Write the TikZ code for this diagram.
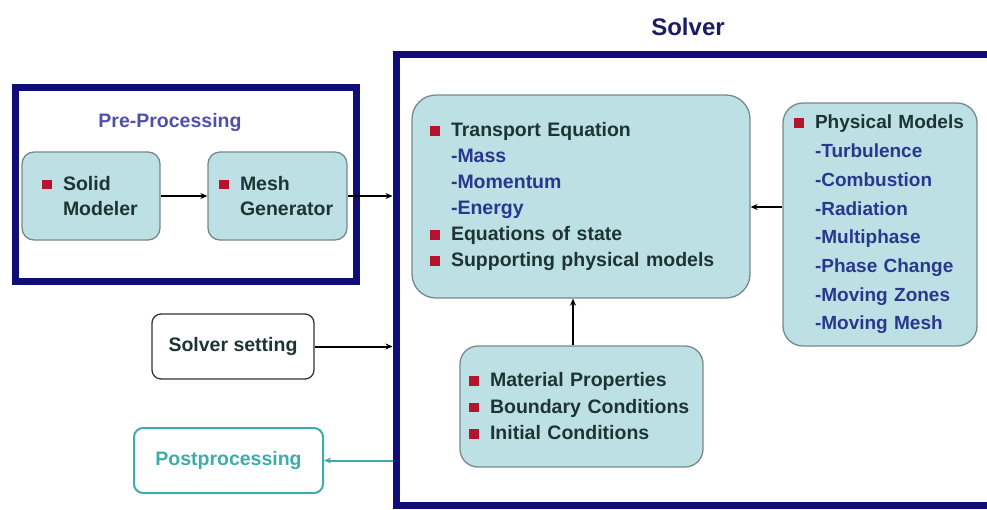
\documentclass[tikz,border=0pt]{standalone}
\usepackage{fontspec}
\setmainfont{Liberation Sans}
\usepackage{xcolor}
\usetikzlibrary{calc, positioning, arrows.meta}

\definecolor{framenavy}{RGB}{14,14,118}
\definecolor{boxfill}{RGB}{189,224,228}
\definecolor{boxline}{RGB}{118,138,140}
\definecolor{maintext}{RGB}{30,52,52}
\definecolor{subblue}{RGB}{40,56,140}
\definecolor{pretext}{RGB}{80,80,168}
\definecolor{titletext}{RGB}{28,28,100}
\definecolor{postteal}{RGB}{62,172,170}
\definecolor{bulred}{RGB}{180,20,45}

\newcommand{\sqbullet}{\makebox[21pt][l]{\textcolor{bulred}{\rule[1pt]{9.5pt}{9.5pt}}}}
\newcommand{\subitm}[1]{\hspace*{21pt}\textcolor{subblue}{#1}}

\begin{document}
\begin{tikzpicture}[x=1pt, y=-1pt,
    box/.style={draw=boxline, fill=boxfill, line width=1.3pt, rounded corners=12pt,
        align=left, inner ysep=0pt, text=maintext,
        font=\fontsize{19.5}{26}\selectfont\bfseries},
    frame/.style={draw=framenavy, line width=7pt, inner sep=0pt},
    arr/.style={-{Stealth[length=7pt, width=6pt]}, line width=2pt}]
    \clip (0,0) rectangle (987,509);

    % Draw the two frames
    \node[frame, minimum width=614, minimum height=451] (solver) at (703,279.5) {};
    \node[frame, minimum width=341, minimum height=194] (pre) at (185.5,184) {};

    % Titles of the frames
    \node[text=titletext, font=\fontsize{24}{28}\selectfont\bfseries] (solvertitle) at (688,27) {Solver};
    \node[text=pretext, font=\fontsize{19.5}{24}\selectfont\bfseries] (pretitle) at (170,122) {Pre-Processing};

    % Pre-processing steps
    \node[box, inner xsep=20pt, text width=98pt, minimum height=88,
        font=\fontsize{19.5}{25}\selectfont\bfseries] (solid) at (91,196)
        {\sqbullet Solid\\ \hspace*{21pt}Modeler};
    \node[box, inner xsep=11pt, text width=117pt, minimum height=88,
        font=\fontsize{19.5}{25}\selectfont\bfseries] (mesh) at (277.5,196)
        {\sqbullet Mesh\\ \hspace*{21pt}Generator};

    % Boxes inside the solver
    \node[box, rounded corners=24pt, inner xsep=18pt, text width=302pt, minimum height=203] (transport) at (581,196.5)
        {\sqbullet Transport Equation\\
         \subitm{-Mass}\\
         \subitm{-Momentum}\\
         \subitm{-Energy}\\
         \sqbullet Equations of state\\
         \sqbullet Supporting physical models};
    \node[box, rounded corners=20pt, inner xsep=11pt, text width=172pt, minimum height=243,
        font=\fontsize{19}{28.7}\selectfont\bfseries] (physical) at (880,224.5)
        {\sqbullet Physical Models\\
         \subitm{-Turbulence}\\
         \subitm{-Combustion}\\
         \subitm{-Radiation}\\
         \subitm{-Multiphase}\\
         \subitm{-Phase Change}\\
         \subitm{-Moving Zones}\\
         \subitm{-Moving Mesh}};
    \node[box, rounded corners=18pt, inner xsep=9pt, text width=225pt, minimum height=121,
        font=\fontsize{19.5}{26.5}\selectfont\bfseries] (material) at (581.5,406.5)
        {\sqbullet Material Properties\\
         \sqbullet Boundary Conditions\\
         \sqbullet Initial Conditions};

    % Boxes outside the frames
    \node[box, fill=white, draw=black!80, align=center, rounded corners=9pt, minimum width=162, minimum height=65] (setting) at (233,346.5)
        {Solver setting};
    \node[box, fill=white, draw=postteal, text=postteal, align=center, line width=2pt, rounded corners=9pt,
        minimum width=189, minimum height=65] (post) at (228.5,460.5) {Postprocessing};

    % Connectors
    \draw[arr] (solid) -- (mesh);
    \draw[arr] (mesh.east) -- (mesh.east -| solver.west);
    \draw[arr] (setting.east) -- (setting.east -| solver.west);
    \draw[arr] ([yshift=17.5pt]physical.west) -- ([yshift=17.5pt]physical.west -| transport.east);
    \draw[arr] ([xshift=-8.5pt]material.north) -- ([xshift=-8.5pt]material.north |- transport.south);
    \draw[arr, postteal] (post.east -| solver.west) -- (post.east);
\end{tikzpicture}
\end{document}
